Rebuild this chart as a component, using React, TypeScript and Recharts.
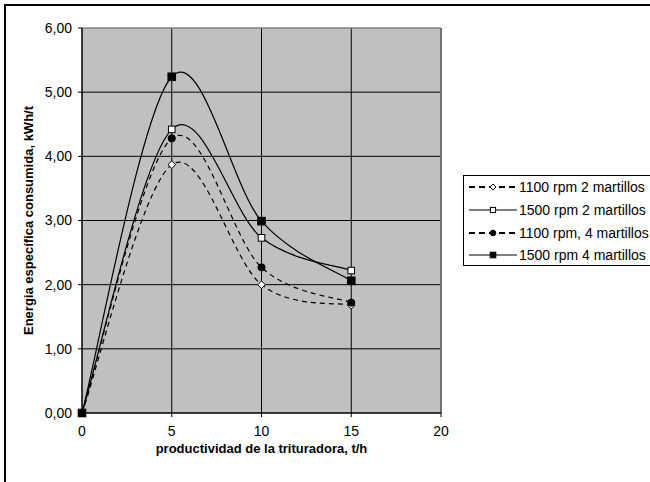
import React from 'react';
import { LineChart, Line, XAxis, YAxis, CartesianGrid, Legend, Label, ReferenceLine } from 'recharts';

const productividad = [0, 5, 10, 15];
const s1100_2 = [0, 3.87, 2.0, 1.68];
const s1500_2 = [0, 4.42, 2.73, 2.22];
const s1100_4 = [0, 4.28, 2.27, 1.72];
const s1500_4 = [0, 5.24, 2.99, 2.06];

const xTicks = [0, 5, 10, 15, 20];
const yTicks = [0, 1, 2, 3, 4, 5, 6];

const seriesNames = [
  '1100 rpm 2 martillos',
  '1500 rpm 2 martillos',
  '1100 rpm, 4 martillos',
  '1500 rpm 4 martillos',
];

const data = productividad.map((x, i) => ({
  x,
  a: s1100_2[i],
  b: s1500_2[i],
  c: s1100_4[i],
  d: s1500_4[i],
}));

const FONT = "Arial, 'Liberation Sans', sans-serif";

// Excel-like smoothing (Catmull-Rom style Bezier)
function excelSmooth(context: any) {
  let pts: number[][] = [];
  return {
    areaStart() {},
    areaEnd() {},
    lineStart() {
      pts = [];
    },
    point(x: number, y: number) {
      pts.push([+x, +y]);
    },
    lineEnd() {
      const n = pts.length;
      if (!n) return;
      context.moveTo(pts[0][0], pts[0][1]);
      if (n === 1) return;
      for (let i = 0; i < n - 1; i++) {
        const p0 = pts[i === 0 ? 0 : i - 1];
        const p1 = pts[i];
        const p2 = pts[i + 1];
        const p3 = pts[i + 2 < n ? i + 2 : n - 1];
        const c1x = p1[0] + (p2[0] - p0[0]) / 6;
        const c1y = p1[1] + (p2[1] - p0[1]) / 6;
        const c2x = p2[0] - (p3[0] - p1[0]) / 6;
        const c2y = p2[1] - (p3[1] - p1[1]) / 6;
        context.bezierCurveTo(c1x, c1y, c2x, c2y, p2[0], p2[1]);
      }
    },
  };
}

const Diamond = ({ cx, cy, r = 3.8 }: any) => (
  <path d={`M${cx},${cy - r}L${cx + r},${cy}L${cx},${cy + r}L${cx - r},${cy}Z`} fill="#fff" stroke="#000" strokeWidth={1} />
);
const WhiteSquare = ({ cx, cy, h = 3.3 }: any) => (
  <rect x={cx - h} y={cy - h} width={2 * h} height={2 * h} fill="#fff" stroke="#000" strokeWidth={1} />
);
const BlackCircle = ({ cx, cy, r = 3.6 }: any) => <circle cx={cx} cy={cy} r={r} fill="#000" stroke="#000" />;
const BlackSquare = ({ cx, cy, h = 3.8 }: any) => (
  <rect x={cx - h} y={cy - h} width={2 * h} height={2 * h} fill="#000" stroke="#000" strokeWidth={1} />
);

const dotA = (p: any) => <Diamond key={`a${p.index}`} cx={p.cx} cy={p.cy} />;
const dotB = (p: any) => <WhiteSquare key={`b${p.index}`} cx={p.cx} cy={p.cy} />;
const dotC = (p: any) => <BlackCircle key={`c${p.index}`} cx={p.cx} cy={p.cy} />;
const dotD = (p: any) => <BlackSquare key={`d${p.index}`} cx={p.cx} cy={p.cy} />;

const renderLegend = () => {
  const rows = [11, 34, 57, 79];
  const dashed = [true, false, true, false];
  const markers = [
    (cx: number, cy: number) => <Diamond cx={cx} cy={cy} r={3} />,
    (cx: number, cy: number) => <WhiteSquare cx={cx} cy={cy} h={2.6} />,
    (cx: number, cy: number) => <BlackCircle cx={cx} cy={cy} r={2.8} />,
    (cx: number, cy: number) => <BlackSquare cx={cx} cy={cy} h={2.8} />,
  ];
  return (
    <div
      style={{
        width: 200,
        height: 91,
        border: '1px solid #000',
        background: '#fff',
        boxSizing: 'border-box',
      }}
    >
      <svg width={200} height={89} style={{ display: 'block' }}>
        {rows.map((y, i) => (
          <g key={i}>
            <line
              x1={5}
              x2={53}
              y1={y}
              y2={y}
              stroke="#000"
              strokeWidth={dashed[i] ? 2 : 1}
              strokeDasharray={dashed[i] ? '6 4' : undefined}
            />
            {markers[i](29, y)}
            <text x={55} y={y + 5} fontFamily={FONT} fontSize={14} fill="#000">
              {seriesNames[i]}
            </text>
          </g>
        ))}
      </svg>
    </div>
  );
};

export default function App() {
  return (
    <div
      style={{
        position: 'fixed',
        left: 0,
        top: 0,
        width: 650,
        height: 482,
        overflow: 'hidden',
        background: '#fff',
      }}
    >
      <div
        style={{
          position: 'absolute',
          left: 4,
          top: 4,
          width: 700,
          height: 520,
          border: '2px solid #000',
          boxSizing: 'border-box',
        }}
      />
      <div style={{ position: 'absolute', left: 0, top: 0 }}>
        <LineChart
          width={650}
          height={482}
          data={data}
          margin={{ top: 28, right: 209, left: 0, bottom: 39 }}
        >
          <CartesianGrid
            fill="#C0C0C0"
            fillOpacity={1}
            stroke="#000"
            strokeWidth={1}
            horizontalValues={[1, 2, 3, 4, 5]}
            verticalValues={[5, 10, 15]}
          />
          <ReferenceLine y={6} stroke="#808080" strokeWidth={1.5} />
          <ReferenceLine x={20} stroke="#707070" strokeWidth={2} />
          <XAxis
            dataKey="x"
            type="number"
            domain={[0, 20]}
            ticks={xTicks}
            interval={0}
            height={30}
            tickSize={4}
            tickMargin={9}
            axisLine={{ stroke: '#000', strokeWidth: 1.5 }}
            tickLine={{ stroke: '#000' }}
            tick={{ fill: '#000', fontFamily: FONT, fontSize: 14 }}
          >
            <Label
              content={(props: any) => {
                const vb = props.viewBox || { x: 82, y: 413, width: 359 };
                return (
                  <text
                    x={vb.x + vb.width / 2}
                    y={vb.y + 40}
                    textAnchor="middle"
                    fontFamily={FONT}
                    fontSize={13}
                    fontWeight="bold"
                    fill="#000"
                  >
                    productividad de la trituradora, t/h
                  </text>
                );
              }}
            />
          </XAxis>
          <YAxis
            type="number"
            domain={[0, 6]}
            ticks={yTicks}
            interval={0}
            width={82}
            tickSize={4}
            tickMargin={6}
            tickFormatter={(v: number) => v.toFixed(2).replace('.', ',')}
            axisLine={{ stroke: '#000', strokeWidth: 1.5 }}
            tickLine={{ stroke: '#000' }}
            tick={{ fill: '#000', fontFamily: FONT, fontSize: 14 }}
          >
            <Label
              content={(props: any) => {
                const vb = props.viewBox || { x: 0, y: 28, width: 82, height: 385 };
                const cx = vb.x + 28;
                const cy = vb.y + vb.height / 2;
                return (
                  <text
                    x={cx}
                    y={cy}
                    transform={`rotate(-90 ${cx} ${cy})`}
                    textAnchor="middle"
                    dominantBaseline="central"
                    fontFamily={FONT}
                    fontSize={13}
                    fontWeight="bold"
                    fill="#000"
                  >
                    Energia específica consumida, kWh/t
                  </text>
                );
              }}
            />
          </YAxis>
          <Legend
            layout="vertical"
            align="center"
            verticalAlign="middle"
            content={renderLegend}
            wrapperStyle={{ left: 463, top: 175, width: 200, height: 91, right: 'auto', bottom: 'auto' }}
          />
          <Line
            name={seriesNames[0]}
            dataKey="a"
            type={excelSmooth as any}
            stroke="#000"
            strokeWidth={1.2}
            strokeDasharray="5 4"
            dot={dotA}
            activeDot={false}
            isAnimationActive={false}
          />
          <Line
            name={seriesNames[1]}
            dataKey="b"
            type={excelSmooth as any}
            stroke="#000"
            strokeWidth={1.2}
            dot={dotB}
            activeDot={false}
            isAnimationActive={false}
          />
          <Line
            name={seriesNames[2]}
            dataKey="c"
            type={excelSmooth as any}
            stroke="#000"
            strokeWidth={1.2}
            strokeDasharray="5 4"
            dot={dotC}
            activeDot={false}
            isAnimationActive={false}
          />
          <Line
            name={seriesNames[3]}
            dataKey="d"
            type={excelSmooth as any}
            stroke="#000"
            strokeWidth={1.2}
            dot={dotD}
            activeDot={false}
            isAnimationActive={false}
          />
        </LineChart>
      </div>
    </div>
  );
}
